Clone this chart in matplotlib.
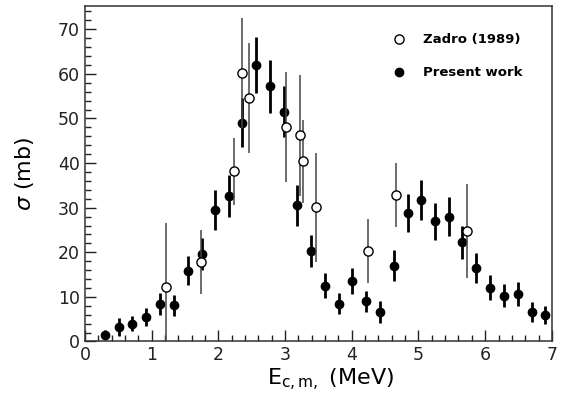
import matplotlib
matplotlib.use("Agg")
import matplotlib.pyplot as plt
from matplotlib.ticker import MultipleLocator

# Present work (filled circles)
e_present = [0.30, 0.51, 0.71, 0.92, 1.12, 1.33, 1.54, 1.75, 1.95, 2.16, 2.36, 2.57,
             2.78, 2.985, 3.18, 3.39, 3.60, 3.81, 4.01, 4.22, 4.42, 4.63, 4.84, 5.04,
             5.25, 5.46, 5.66, 5.87, 6.07, 6.28, 6.49, 6.70, 6.90]
sig_present = [1.5, 3.2, 4.0, 5.4, 8.4, 8.1, 15.9, 19.7, 29.5, 32.6, 49.0, 62.0,
               57.2, 51.5, 30.5, 20.2, 12.5, 8.5, 13.5, 9.0, 6.6, 17.0, 28.8, 31.8,
               26.9, 28.0, 22.2, 16.5, 12.0, 10.3, 10.6, 6.6, 6.0]
err_present = [1.0, 2.0, 1.7, 2.0, 2.4, 2.3, 3.3, 3.6, 4.4, 4.7, 5.5, 6.3,
               6.0, 5.7, 4.5, 3.6, 2.8, 2.3, 2.9, 2.4, 2.4, 3.4, 4.3, 4.5,
               4.2, 4.3, 3.7, 3.3, 2.8, 2.6, 2.7, 2.2, 2.0]

# Zadro (1989) (open circles)
e_zadro = [1.21, 1.74, 2.23, 2.36, 2.46, 3.01, 3.22, 3.27, 3.47, 4.24, 4.67, 5.73]
sig_zadro = [12.3, 17.8, 38.2, 60.2, 54.6, 48.0, 46.2, 40.4, 30.1, 20.3, 32.9, 24.8]
err_zadro = [14.3, 7.1, 7.5, 12.3, 12.4, 12.3, 13.5, 9.3, 12.2, 7.1, 7.2, 10.6]

fig = plt.figure(figsize=(5.68, 4.01), dpi=100)
ax = fig.add_axes([0.1496, 0.1484, 0.822, 0.8366])

ax.errorbar(e_present, sig_present, yerr=err_present, fmt='o', color='black',
            ms=6.0, elinewidth=2.0, capsize=0, zorder=3)
ax.errorbar(e_zadro, sig_zadro, yerr=err_zadro, fmt='o', color='#444444',
            mfc='white', mec='black', mew=1.0, ms=6.6, elinewidth=1.1,
            capsize=0, zorder=4)

ax.set_xlim(0, 7)
ax.set_ylim(0, 75.2)
ax.xaxis.set_major_locator(MultipleLocator(1))
ax.xaxis.set_minor_locator(MultipleLocator(0.2))
ax.yaxis.set_major_locator(MultipleLocator(10))
ax.yaxis.set_minor_locator(MultipleLocator(2))
ax.tick_params(which='both', direction='in', top=False, right=False,
               labelsize=12.5, colors='#222222', width=1.0)
ax.tick_params(which='major', length=8)
ax.tick_params(which='minor', length=4)
for s in ax.spines.values():
    s.set_linewidth(1.1)
    s.set_color('#333333')

ax.set_xlabel(r'E$_{\rm c,m,}$ (MeV)', fontsize=16)
ax.set_ylabel(r'$\sigma$ (mb)', fontsize=16)
ax.xaxis.set_label_coords(0.525, -0.075)
ax.yaxis.set_label_coords(-0.105, 0.5)

# legend drawn by hand like the ROOT original
ax.plot([0.672], [0.901], 'o', transform=ax.transAxes, ms=6.6, mfc='white',
        mec='black', mew=1.0, clip_on=False)
ax.plot([0.672], [0.803], 'o', transform=ax.transAxes, ms=6.0, color='black',
        clip_on=False)
ax.text(0.723, 0.901, 'Zadro (1989)', transform=ax.transAxes, fontsize=9.5,
        fontweight='bold', va='center')
ax.text(0.723, 0.803, 'Present work', transform=ax.transAxes, fontsize=9.5,
        fontweight='bold', va='center')

fig.savefig('out.png', dpi=100)
